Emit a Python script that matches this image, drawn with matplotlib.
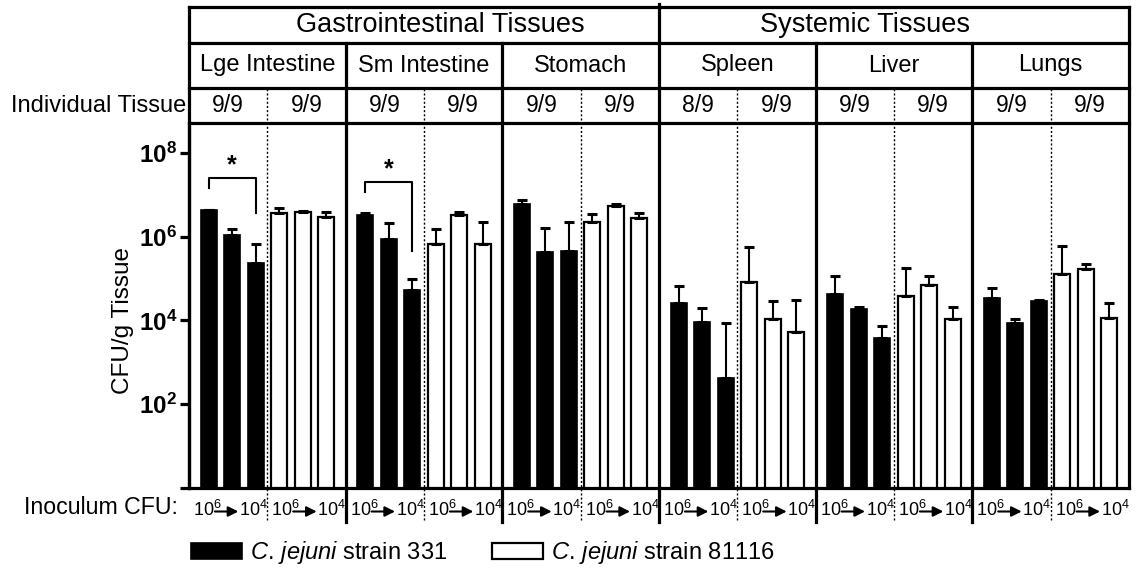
import numpy as np
import matplotlib
matplotlib.use('Agg')
import matplotlib.pyplot as plt
from matplotlib.transforms import blended_transform_factory

plt.rcParams['font.family'] = ['Liberation Sans', 'DejaVu Sans']
plt.rcParams['mathtext.fontset'] = 'custom'
plt.rcParams['mathtext.rm'] = 'Liberation Sans'
plt.rcParams['mathtext.it'] = 'Liberation Sans:italic'
plt.rcParams['mathtext.bf'] = 'Liberation Sans:bold'

# ---------------- data ----------------
regions = ['Gastrointestinal Tissues', 'Systemic Tissues']
tissues = ['Lge Intestine', 'Sm Intestine', 'Stomach', 'Spleen', 'Liver', 'Lungs']
positive_331 = ['9/9', '9/9', '9/9', '8/9', '9/9', '9/9']
positive_81116 = ['9/9', '9/9', '9/9', '9/9', '9/9', '9/9']
dose_start = '10$^{6}$'
dose_end = '10$^{4}$'
strain_labels = [r'$\mathit{C.\,jejuni}$ strain 331', r'$\mathit{C.\,jejuni}$ strain 81116']

# log10 CFU/g, doses 10^6, 10^5, 10^4 for each tissue
log_mean_331 = [[6.63, 6.03, 5.38], [6.52, 5.95, 4.73], [6.79, 5.63, 5.66],
                [4.41, 3.97, 2.62], [4.64, 4.27, 3.57], [4.53, 3.93, 4.46]]
log_upper_331 = [[6.65, 6.18, 5.82], [6.56, 6.33, 5.00], [6.87, 6.21, 6.36],
                 [4.83, 4.30, 3.93], [5.06, 4.33, 3.87], [4.78, 4.03, 4.50]]
log_mean_81116 = [[6.56, 6.59, 6.46], [5.82, 6.52, 5.82], [6.36, 6.73, 6.45],
                  [4.91, 4.03, 3.72], [4.58, 4.84, 4.03], [5.11, 5.24, 4.06]]
log_upper_81116 = [[6.69, 6.61, 6.58], [6.19, 6.58, 6.36], [6.54, 6.78, 6.56],
                   [5.76, 4.46, 4.50], [5.26, 5.06, 4.33], [5.79, 5.35, 4.42]]
ytick_exponents = [0, 2, 4, 6, 8]
# significance brackets: tissue index, bracket level, left leg end, right leg end (log10)
sig_tissues = [0, 1]
sig_levels = [[7.40, 7.16, 6.56], [7.31, 7.07, 5.66]]

# ---------------- figure ----------------
fig = plt.figure(figsize=(11.38, 5.71), dpi=100)
ax = fig.add_axes([189 / 1138, 1 - 488 / 571, 940 / 1138, 365 / 571])
W = 20 / 3.0
ngroups = len(tissues)
ax.set_yscale('log')
ax.set_ylim(1, 10 ** 8.716)
ax.set_xlim(0, ngroups * W)

LW = 2.3
bw = 0.68
for g in range(ngroups):
    c = (g + 0.5) * W
    xb = [c - 2.5 + k for k in range(3)]
    xw = [c + 0.5 + k for k in range(3)]
    mb = 10 ** np.array(log_mean_331[g])
    ub = 10 ** np.array(log_upper_331[g])
    mw = 10 ** np.array(log_mean_81116[g])
    uw = 10 ** np.array(log_upper_81116[g])
    bb = ax.bar(xb, mb - 1, bottom=1, width=bw, color='black', edgecolor='black', linewidth=1.2, zorder=3)
    bwh = ax.bar(xw, mw - 1, bottom=1, width=bw, color='white', edgecolor='black', linewidth=1.6, zorder=3)
    ax.errorbar(xb, mb, yerr=[np.zeros(3), ub - mb], fmt='none', ecolor='black',
                elinewidth=1.5, capsize=3.3, capthick=2.2, zorder=4)
    ax.errorbar(xw, mw, yerr=[np.zeros(3), uw - mw], fmt='none', ecolor='black',
                elinewidth=1.5, capsize=3.3, capthick=2.2, zorder=4)
    if g == 0:
        h331, h81116 = bb, bwh

# axes style
for s in ['top', 'right']:
    ax.spines[s].set_visible(False)
ax.spines['left'].set_linewidth(LW)
ax.spines['bottom'].set_linewidth(LW)
ax.set_xticks([])
ax.minorticks_off()
ax.set_yticks([10.0 ** e for e in ytick_exponents])
ax.set_yticklabels(['' if e == 0 else r'$\mathbf{10^{%d}}$' % e for e in ytick_exponents],
                   fontsize=17.5)
ax.yaxis.set_minor_locator(matplotlib.ticker.NullLocator())
ax.tick_params(axis='y', length=6.5, width=LW, pad=2)

trans = blended_transform_factory(ax.transData, ax.transAxes)
def ya(px):
    return (488 - px) / 365.0

y_top, y_r1, y_r2, y_r3 = ya(7), ya(43), ya(88), 1.0
y_bot = ya(522)
xmax = ngroups * W

# horizontal header lines
for yy in [y_top, y_r1, y_r2, y_r3]:
    ax.plot([0, xmax], [yy, yy], color='black', lw=LW, transform=trans, clip_on=False,
            solid_capstyle='projecting', zorder=6)
# outer vertical borders
ax.plot([0, 0], [0, y_top], color='black', lw=LW, transform=trans, clip_on=False, zorder=6,
        solid_capstyle='projecting')
ax.plot([xmax, xmax], [0, y_top], color='black', lw=LW, transform=trans, clip_on=False, zorder=6,
        solid_capstyle='projecting')
# group separators
for g in range(1, ngroups):
    ytop_line = ya(4) if g == 3 else y_r1
    ax.plot([g * W, g * W], [y_bot, ytop_line], color='black', lw=LW, transform=trans,
            clip_on=False, zorder=6)
# dotted half-group separators
for g in range(ngroups):
    xd = (g + 0.5) * W
    ax.plot([xd, xd], [ya(520), y_r2], color='black', lw=1.0, ls=(0, (1.5, 1.5)),
            transform=trans, clip_on=False, zorder=5)

# header texts
ax.text(10.68, ya(25), regions[0], transform=trans, ha='center', va='center', fontsize=19.5)
ax.text(28.77, ya(25), regions[1], transform=trans, ha='center', va='center', fontsize=19.5)
for g, t in enumerate(tissues):
    ax.text((g + 0.5) * W, ya(65.5), t, transform=trans, ha='center', va='center', fontsize=17)
    ax.text((g + 0.25) * W, ya(106), positive_331[g], transform=trans, ha='center', va='center', fontsize=16.5)
    ax.text((g + 0.75) * W, ya(106), positive_81116[g], transform=trans, ha='center', va='center', fontsize=16.5)

# inoculum labels
for h in range(2 * ngroups):
    x0 = h * W / 2
    x1 = (h + 1) * W / 2
    ax.text(x0 + 0.17, ya(515.5), dose_start, transform=trans, ha='left', va='baseline', fontsize=13)
    ax.text(x1 + 0.02, ya(515.5), dose_end, transform=trans, ha='right', va='baseline', fontsize=13)
    ax.annotate('', xy=(x0 + 2.1, ya(511.5)), xytext=(x0 + 1.1, ya(511.5)),
                xycoords=trans, textcoords=trans,
                arrowprops=dict(arrowstyle='-|>,head_length=0.6,head_width=0.3',
                                color='black', lw=1.5, shrinkA=0, shrinkB=0))

# significance brackets
for ti, (lev, l_end, r_end) in zip(sig_tissues, sig_levels):
    c = (ti + 0.5) * W
    xl, xr = c - 2.5, c - 0.5
    ax.plot([xl, xl, xr, xr], [10 ** l_end, 10 ** lev, 10 ** lev, 10 ** r_end],
            color='black', lw=1.5, zorder=5)
    ax.text((xl + xr) / 2, 10 ** (lev + 0.02), '*', ha='center', va='bottom',
            fontsize=18, fontweight='bold')

# left labels
fig.text(123 / 1138, 1 - 321 / 571, 'CFU/g Tissue', rotation=90, ha='center', va='center', fontsize=17.5)
fig.text(186 / 1138, 1 - 106 / 571, 'Individual Tissue', ha='right', va='center', fontsize=17)
fig.text(178 / 1138, 1 - 508 / 571, 'Inoculum CFU:', ha='right', va='center', fontsize=16.7)

# legend
fig.legend([h331[0], h81116[0]], strain_labels, loc='center left',
           bbox_to_anchor=(191 / 1138, 1 - 553 / 571), ncol=2, frameon=False,
           fontsize=17, handlelength=2.16, handleheight=0.64, handletextpad=0.34,
           columnspacing=1.9, borderpad=0, borderaxespad=0)

fig.savefig('out.png', dpi=100)
